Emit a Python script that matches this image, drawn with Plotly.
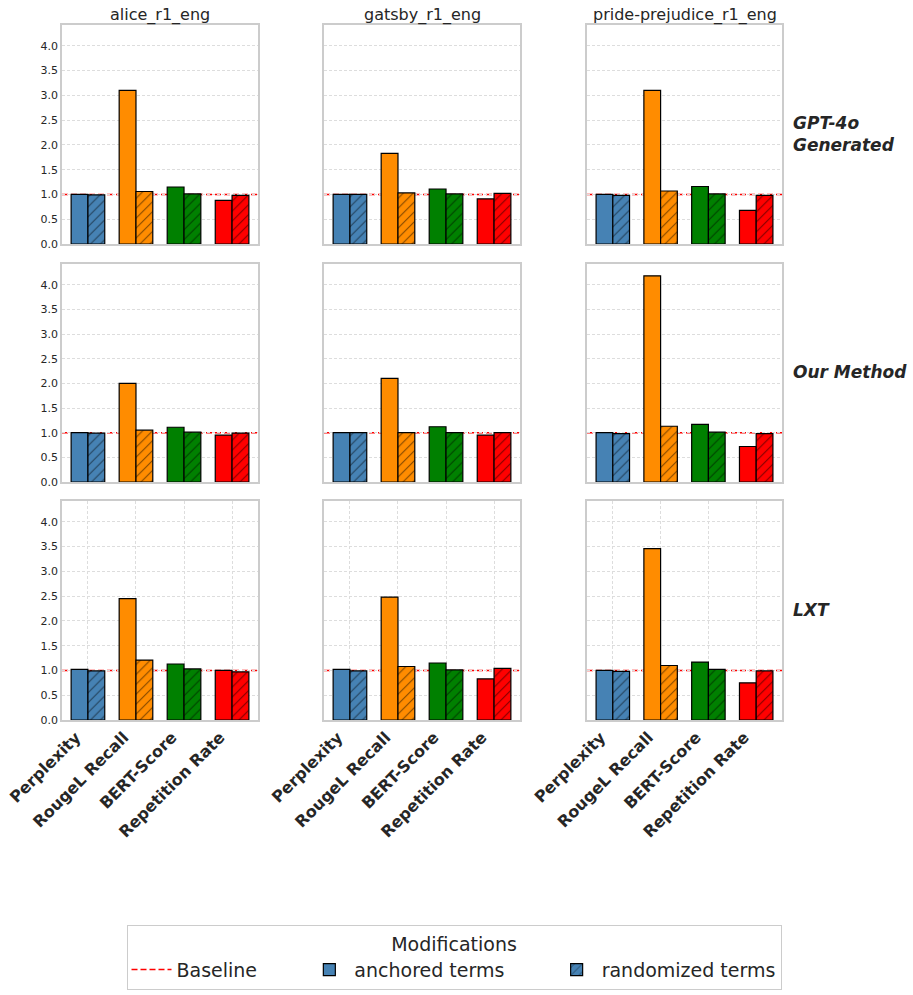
import plotly.graph_objects as go

metrics = ["Perplexity", "RougeL Recall", "BERT-Score", "Repetition Rate"]
datasets = ["alice_r1_eng", "gatsby_r1_eng", "pride-prejudice_r1_eng"]
methods = ["GPT-4o<br>Generated", "Our Method", "LXT"]
metric_colors = ["#4682B4", "#FF8C00", "#008000", "#FF0000"]

# anchored terms values [method][dataset][metric]
anchored = [
    [[1.00, 3.10, 1.15, 0.88], [1.00, 1.83, 1.11, 0.91], [1.00, 3.10, 1.16, 0.68]],
    [[1.00, 2.00, 1.11, 0.95], [1.00, 2.10, 1.12, 0.95], [1.00, 4.18, 1.17, 0.72]],
    [[1.02, 2.45, 1.13, 1.00], [1.02, 2.48, 1.15, 0.83], [1.00, 3.46, 1.17, 0.75]],
]
# randomized terms values [method][dataset][metric]
randomized = [
    [[0.99, 1.06, 1.01, 0.98], [1.00, 1.03, 1.01, 1.02], [0.98, 1.07, 1.01, 0.98]],
    [[0.99, 1.05, 1.01, 0.99], [1.00, 1.00, 1.00, 1.00], [0.98, 1.13, 1.01, 0.98]],
    [[0.99, 1.21, 1.03, 0.97], [0.99, 1.08, 1.01, 1.04], [0.98, 1.10, 1.02, 0.99]],
]
baseline = 1.0

W, H = 913, 995
col_px = [(62, 258), (324, 520), (587, 782)]
row_px = [(25, 244), (264, 482), (501, 720)]

FONT = "DejaVu Sans"
TXT = "#262626"
NB = "\u00a0"
DASH = "6px,3px"


def px_x(v):
    return v / W


def px_y(v):
    return 1 - v / H


fig = go.Figure()
layout = {}
shapes = []
annotations = []

for r in range(3):
    for c in range(3):
        idx = r * 3 + c + 1
        xa = "x" if idx == 1 else f"x{idx}"
        ya = "y" if idx == 1 else f"y{idx}"
        for m, metric in enumerate(metrics):
            show = (r == 0 and c == 0 and m == 0)
            fig.add_trace(go.Bar(
                x=[metric], y=[anchored[r][c][m]],
                name="anchored terms" + NB * 7,
                marker=dict(color=metric_colors[m], line=dict(color="black", width=1.2)),
                offsetgroup="a", xaxis=xa, yaxis=ya, showlegend=show,
                legendgroup="a", legendrank=2,
            ))
            fig.add_trace(go.Bar(
                x=[metric], y=[randomized[r][c][m]], name="randomized terms",
                marker=dict(color=metric_colors[m], line=dict(color="black", width=1.2),
                            pattern=dict(shape="/", fgcolor="black", size=7, solidity=0.15,
                                         fillmode="overlay")),
                offsetgroup="b", xaxis=xa, yaxis=ya, showlegend=show,
                legendgroup="b", legendrank=3,
            ))
        x0, x1 = col_px[c]
        y0, y1 = row_px[r]
        layout[f"xaxis{idx if idx > 1 else ''}"] = dict(
            domain=[px_x(x0), px_x(x1)], anchor=ya, automargin=False,
            range=[-0.54, 3.54], type="category",
            categoryorder="array", categoryarray=metrics,
            showgrid=(r == 2), gridcolor="#dddddd", griddash="3px,2px", gridwidth=0.8,
            showline=True, mirror=True, linecolor="#cccccc", linewidth=1.5,
            ticks="", showticklabels=(r == 2), tickangle=-45, ticklabelshift=-12,
            tickfont=dict(family=FONT, size=16, color=TXT, weight="bold"),
            zeroline=False,
        )
        layout[f"yaxis{idx if idx > 1 else ''}"] = dict(
            domain=[px_y(y1), px_y(y0)], anchor=xa, automargin=False,
            range=[0, 4.42], tickvals=[0, 0.5, 1, 1.5, 2, 2.5, 3, 3.5, 4],
            tickformat=".1f",
            showgrid=True, gridcolor="#dddddd", griddash="3px,2px", gridwidth=0.8,
            showline=True, mirror=True, linecolor="#cccccc", linewidth=1.5,
            ticks="", showticklabels=(c == 0),
            tickfont=dict(family=FONT, size=11, color=TXT),
            zeroline=False,
        )
        shapes.append(dict(
            type="line", xref=f"{xa} domain", yref=ya, x0=0, x1=1, y0=baseline, y1=baseline,
            line=dict(color="red", width=1.5, dash=DASH), layer="below",
        ))

for c in range(3):
    x0, x1 = col_px[c]
    annotations.append(dict(
        text=datasets[c], xref="paper", yref="paper", x=px_x((x0 + x1) / 2), y=px_y(15),
        showarrow=False, font=dict(family=FONT, size=16, color=TXT),
        xanchor="center", yanchor="middle",
    ))
for r in range(3):
    y0, y1 = row_px[r]
    annotations.append(dict(
        text=f"<b><i>{methods[r]}</i></b>", xref="paper", yref="paper",
        x=px_x(791), y=px_y((y0 + y1) / 2 - 1),
        showarrow=False, font=dict(family=FONT, size=17, color=TXT),
        xanchor="left", yanchor="middle", align="left",
    ))

# legend-only baseline entry
fig.add_trace(go.Scatter(
    x=[None], y=[None], mode="lines", name="Baseline" + NB * 7,
    line=dict(color="red", width=1.5, dash=DASH), legendrank=1,
))

fig.update_layout(
    width=W, height=H,
    margin=dict(l=0, r=0, t=0, b=0, autoexpand=False),
    paper_bgcolor="white", plot_bgcolor="white",
    barmode="group", bargap=0.3, bargroupgap=0,
    shapes=shapes, annotations=annotations,
    font=dict(family=FONT, color=TXT),
    legend=dict(
        orientation="h", x=px_x(454), xanchor="center", y=px_y(925), yanchor="top",
        title=dict(text="Modifications", side="top center",
                   font=dict(family=FONT, size=19, color=TXT)),
        font=dict(family=FONT, size=19, color=TXT),
        bordercolor="#cccccc", borderwidth=1, bgcolor="white",
        itemwidth=40,
    ),
    **layout,
)

fig.write_html("out.html",
               config={"displayModeBar": False},
               post_script="document.body.style.margin='0';document.body.style.overflow='hidden';")
